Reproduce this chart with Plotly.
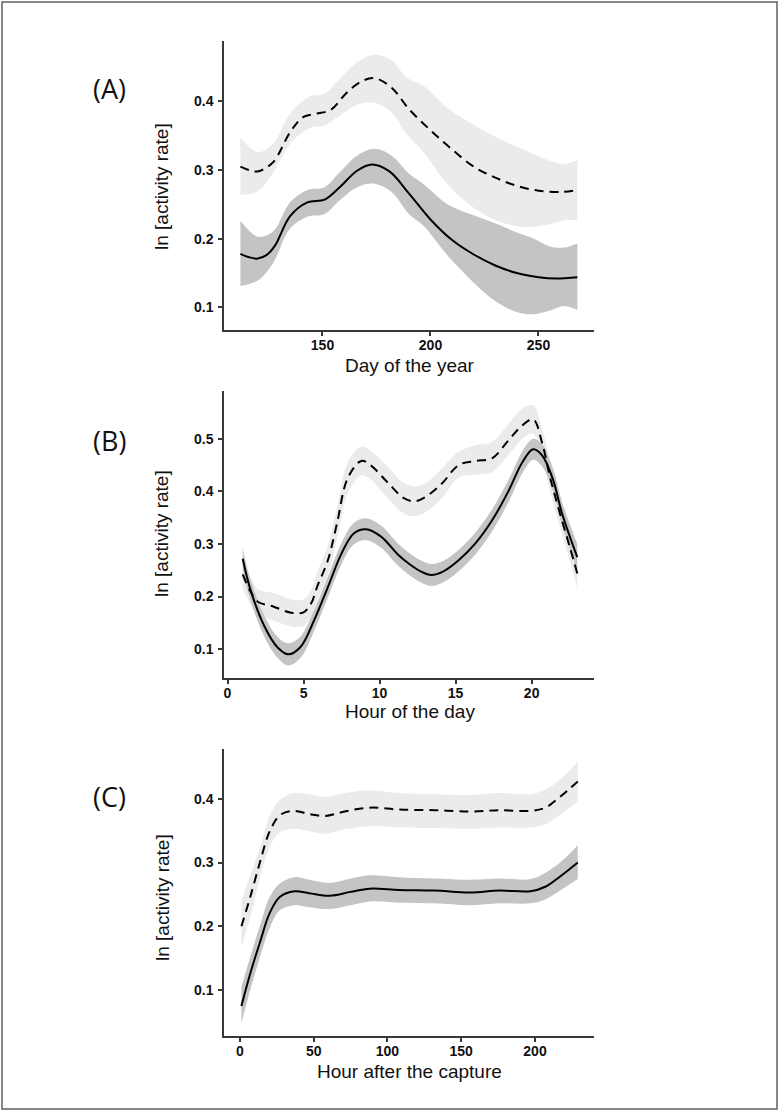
import plotly.graph_objects as go

# ---------------- Panel A: Day of the year ----------------
a_solid_x = [112, 116, 120, 124, 128, 135, 143, 151, 158, 166, 173, 181, 190, 200, 210, 220, 230, 240, 250, 258, 268]
a_solid_y = [0.178, 0.173, 0.171, 0.176, 0.190, 0.233, 0.253, 0.257, 0.275, 0.299, 0.308, 0.298, 0.266, 0.228, 0.198, 0.177, 0.161, 0.150, 0.144, 0.142, 0.144]
a_dark_x = [112, 120, 127, 135, 143, 151, 158, 166, 174, 182, 190, 197, 208, 220, 231, 241, 248, 255, 262, 268]
a_dark_up = [0.226, 0.203, 0.210, 0.253, 0.271, 0.275, 0.297, 0.321, 0.331, 0.321, 0.295, 0.279, 0.250, 0.234, 0.221, 0.208, 0.200, 0.189, 0.187, 0.193]
a_dark_lo = [0.131, 0.139, 0.164, 0.215, 0.232, 0.236, 0.256, 0.275, 0.280, 0.268, 0.236, 0.218, 0.175, 0.136, 0.107, 0.092, 0.090, 0.095, 0.102, 0.096]

a_dash_x = [112, 116, 120, 127, 135, 141, 147, 154, 161, 168, 174, 182, 190, 200, 210, 220, 230, 240, 250, 260, 268]
a_dash_y = [0.305, 0.300, 0.298, 0.311, 0.355, 0.377, 0.382, 0.388, 0.412, 0.429, 0.434, 0.420, 0.389, 0.358, 0.330, 0.305, 0.289, 0.277, 0.270, 0.268, 0.271]
a_light_x = [112, 120, 127, 135, 144, 151, 158, 166, 174, 182, 189, 197, 208, 220, 231, 243, 255, 262, 268]
a_light_up = [0.347, 0.326, 0.338, 0.382, 0.407, 0.411, 0.433, 0.457, 0.468, 0.460, 0.435, 0.422, 0.390, 0.366, 0.347, 0.330, 0.314, 0.309, 0.315]
a_light_lo = [0.264, 0.269, 0.295, 0.338, 0.361, 0.365, 0.379, 0.395, 0.398, 0.384, 0.352, 0.325, 0.279, 0.245, 0.226, 0.217, 0.221, 0.227, 0.227]

# ---------------- Panel B: Hour of the day ----------------
b_solid_x = [1, 1.5, 2.4, 3.3, 4.0, 4.8, 5.7, 6.6, 7.5, 8.3, 9.1, 10.1, 11.2, 12.0, 12.7, 13.4, 14.2, 15.2, 16.3, 17.4, 18.5, 19.4, 20.1, 20.7, 21.4, 22.0, 23.0]
b_solid_y = [0.272, 0.214, 0.145, 0.103, 0.090, 0.104, 0.155, 0.218, 0.282, 0.320, 0.328, 0.314, 0.280, 0.261, 0.248, 0.241, 0.248, 0.269, 0.301, 0.345, 0.402, 0.456, 0.480, 0.468, 0.423, 0.358, 0.275]
b_dark_up = [0.292, 0.234, 0.165, 0.123, 0.111, 0.124, 0.175, 0.238, 0.302, 0.340, 0.349, 0.335, 0.301, 0.282, 0.269, 0.262, 0.268, 0.289, 0.322, 0.366, 0.423, 0.477, 0.500, 0.489, 0.444, 0.380, 0.300]
b_dark_lo = [0.250, 0.194, 0.125, 0.083, 0.069, 0.083, 0.135, 0.198, 0.262, 0.299, 0.307, 0.293, 0.259, 0.240, 0.227, 0.220, 0.227, 0.248, 0.280, 0.324, 0.381, 0.435, 0.460, 0.447, 0.402, 0.336, 0.250]

b_dash_x = [1, 1.5, 2.0, 3.0, 4.2, 5.0, 5.5, 5.9, 6.6, 7.2, 7.9, 8.8, 9.4, 10.5, 11.6, 12.3, 13.0, 14.1, 15.2, 16.3, 17.4, 18.5, 19.4, 20.1, 20.7, 21.2, 21.8, 22.5, 23.0]
b_dash_y = [0.242, 0.210, 0.190, 0.181, 0.169, 0.170, 0.187, 0.219, 0.269, 0.339, 0.425, 0.458, 0.450, 0.418, 0.387, 0.381, 0.389, 0.415, 0.450, 0.458, 0.463, 0.498, 0.526, 0.537, 0.491, 0.428, 0.364, 0.295, 0.244]
b_light_up = [0.268, 0.236, 0.214, 0.207, 0.194, 0.195, 0.212, 0.246, 0.297, 0.368, 0.455, 0.485, 0.478, 0.448, 0.416, 0.410, 0.415, 0.444, 0.475, 0.488, 0.494, 0.529, 0.558, 0.564, 0.518, 0.455, 0.390, 0.322, 0.272]
b_light_lo = [0.216, 0.185, 0.165, 0.155, 0.143, 0.144, 0.162, 0.193, 0.242, 0.310, 0.395, 0.431, 0.423, 0.388, 0.358, 0.353, 0.360, 0.387, 0.426, 0.432, 0.437, 0.470, 0.500, 0.510, 0.464, 0.401, 0.338, 0.268, 0.216]

# ---------------- Panel C: Hour after the capture ----------------
c_dash_x = [1, 7, 14, 20, 27, 36, 47, 58, 71, 88, 108, 132, 156, 176, 197, 207, 217, 229]
c_dash_y = [0.200, 0.246, 0.304, 0.348, 0.374, 0.381, 0.376, 0.373, 0.380, 0.386, 0.383, 0.382, 0.380, 0.382, 0.381, 0.386, 0.403, 0.427]
c_light_up = [0.240, 0.280, 0.326, 0.372, 0.398, 0.409, 0.407, 0.403, 0.409, 0.413, 0.409, 0.407, 0.406, 0.409, 0.407, 0.414, 0.430, 0.458]
c_light_lo = [0.168, 0.214, 0.280, 0.323, 0.347, 0.353, 0.349, 0.345, 0.352, 0.357, 0.355, 0.354, 0.353, 0.355, 0.355, 0.360, 0.375, 0.395]

c_solid_x = [1, 7, 14, 20, 27, 37, 47, 61, 75, 88, 108, 132, 156, 176, 197, 207, 217, 229]
c_solid_y = [0.075, 0.126, 0.178, 0.220, 0.246, 0.255, 0.252, 0.248, 0.254, 0.259, 0.257, 0.256, 0.253, 0.256, 0.255, 0.262, 0.278, 0.300]
c_dark_up = [0.105, 0.152, 0.204, 0.245, 0.267, 0.277, 0.273, 0.268, 0.275, 0.280, 0.277, 0.275, 0.273, 0.275, 0.274, 0.284, 0.300, 0.327]
c_dark_lo = [0.048, 0.100, 0.155, 0.196, 0.225, 0.233, 0.230, 0.227, 0.233, 0.239, 0.237, 0.236, 0.233, 0.236, 0.236, 0.242, 0.256, 0.274]

panel_labels = ["(A)", "(B)", "(C)"]
x_titles = ["Day of the year", "Hour of the day", "Hour after the capture"]
y_title = "ln [activity rate]"

a_xticks = [150, 200, 250]
a_yticks = [0.1, 0.2, 0.3, 0.4]
b_xticks = [0, 5, 10, 15, 20]
b_yticks = [0.1, 0.2, 0.3, 0.4, 0.5]
c_xticks = [0, 50, 100, 150, 200]
c_yticks = [0.1, 0.2, 0.3, 0.4]

W, H = 781, 1113
LIGHT = "#ebebeb"
DARK = "#c4c4c4"
AXIS = "#383838"

fig = go.Figure()


def add_band(xs, up, lo, color, xa, ya):
    fig.add_trace(go.Scatter(x=xs, y=lo, mode="lines", line=dict(width=0, color=color, shape="spline"),
                             xaxis=xa, yaxis=ya, showlegend=False, hoverinfo="skip"))
    fig.add_trace(go.Scatter(x=xs, y=up, mode="lines", line=dict(width=0, color=color, shape="spline"),
                             fill="tonexty", fillcolor=color,
                             xaxis=xa, yaxis=ya, showlegend=False, hoverinfo="skip"))


def add_line(xs, ys, dash, xa, ya):
    fig.add_trace(go.Scatter(x=xs, y=ys, mode="lines",
                             line=dict(width=2, color="black", dash=dash, shape="spline"),
                             xaxis=xa, yaxis=ya, showlegend=False))


add_band(a_light_x, a_light_up, a_light_lo, LIGHT, "x", "y")
add_band(a_dark_x, a_dark_up, a_dark_lo, DARK, "x", "y")
add_line(a_dash_x, a_dash_y, "9px,6px", "x", "y")
add_line(a_solid_x, a_solid_y, "solid", "x", "y")

add_band(b_dash_x, b_light_up, b_light_lo, LIGHT, "x2", "y2")
add_band(b_solid_x, b_dark_up, b_dark_lo, DARK, "x2", "y2")
add_line(b_dash_x, b_dash_y, "9px,6px", "x2", "y2")
add_line(b_solid_x, b_solid_y, "solid", "x2", "y2")

add_band(c_dash_x, c_light_up, c_light_lo, LIGHT, "x3", "y3")
add_band(c_solid_x, c_dark_up, c_dark_lo, DARK, "x3", "y3")
add_line(c_dash_x, c_dash_y, "9px,6px", "x3", "y3")
add_line(c_solid_x, c_solid_y, "solid", "x3", "y3")


def px2x(p):
    return p / W


def px2y(p):
    return 1 - p / H


xdom = [px2x(224), px2x(594)]
panels = [
    # (top px, bottom px, xrange, yrange, xticks, yticks, label y, xtitle y, ytitle y)
    (41, 330, [104.4, 275.7], [0.067, 0.488], a_xticks, a_yticks, 89, 365, 187),
    (391, 678, [-0.23, 24.1], [0.045, 0.591], b_xticks, b_yticks, 440, 711, 534),
    (749, 1036, [-10.8, 240], [0.028, 0.478], c_xticks, c_yticks, 796, 1071, 898),
]

tickfont = dict(family="Liberation Sans, Arial, sans-serif", size=14, color="#111111", weight="bold")
annotations = []
layout_axes = {}
for i, (top, bot, xr, yr, xt, yt, ly, xty, yty) in enumerate(panels):
    sfx = "" if i == 0 else str(i + 1)
    layout_axes["xaxis" + sfx] = dict(
        domain=xdom, range=xr, anchor="y" + sfx, tickvals=xt,
        showline=True, linecolor=AXIS, linewidth=1.5, ticks="outside", ticklen=4,
        tickcolor=AXIS, tickwidth=1.5, showgrid=False, zeroline=False,
        tickfont=tickfont, ticklabelstandoff=-3)
    layout_axes["yaxis" + sfx] = dict(
        domain=[px2y(bot), px2y(top)], range=yr, anchor="x" + sfx, tickvals=yt,
        tickformat=".1f",
        showline=True, linecolor=AXIS, linewidth=1.5, ticks="outside", ticklen=4,
        tickcolor=AXIS, tickwidth=1.5, showgrid=False, zeroline=False,
        tickfont=tickfont, ticklabelstandoff=2)
    annotations.append(dict(text=panel_labels[i], x=px2x(109), y=px2y(ly), xref="paper", yref="paper",
                            showarrow=False, xanchor="center", yanchor="middle",
                            font=dict(family="Open Sans, sans-serif", size=27, color="#111111")))
    annotations.append(dict(text=x_titles[i], x=px2x(410), y=px2y(xty), xref="paper", yref="paper",
                            showarrow=False, xanchor="center", yanchor="middle",
                            font=dict(family="Liberation Sans, Arial, sans-serif", size=19, color="#111111")))
    annotations.append(dict(text=y_title, x=px2x(162), y=px2y(yty), xref="paper", yref="paper",
                            showarrow=False, xanchor="center", yanchor="middle", textangle=-90,
                            font=dict(family="Liberation Sans, Arial, sans-serif", size=19, color="#111111")))

fig.update_layout(
    width=W, height=H, margin=dict(l=0, r=0, t=0, b=0),
    paper_bgcolor="white", plot_bgcolor="white",
    annotations=annotations,
    shapes=[dict(type="rect", xref="paper", yref="paper",
                 x0=px2x(2), x1=px2x(777), y0=px2y(1109), y1=px2y(2),
                 line=dict(color="#606060", width=1.5), fillcolor="rgba(0,0,0,0)", layer="below")],
    **layout_axes,
)

fig.write_html("out.html", config={"displayModeBar": False},
               post_script="document.body.style.margin='0';document.body.style.overflow='hidden';")
